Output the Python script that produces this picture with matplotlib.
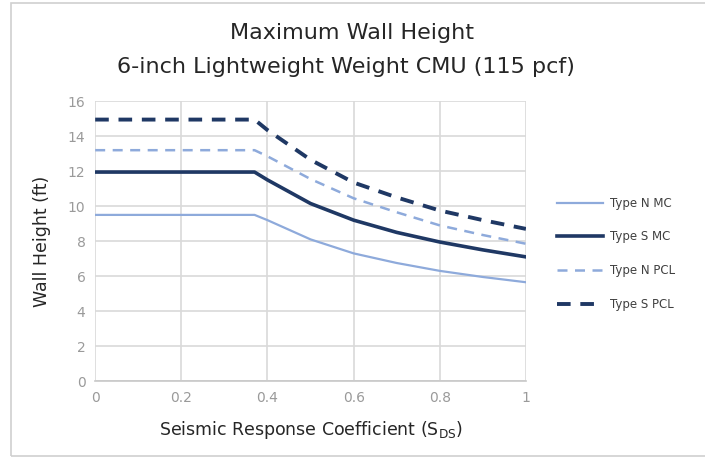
import matplotlib
matplotlib.use("Agg")
import matplotlib.pyplot as plt
from matplotlib.patches import Rectangle

# seismic response coefficient S_DS
sds = [0.0, 0.37, 0.4, 0.5, 0.6, 0.7, 0.8, 0.9, 1.0]

# wall heights (ft)
n_mc  = [9.5, 9.5, 9.2, 8.1, 7.3, 6.75, 6.3, 5.95, 5.65]
s_mc  = [11.95, 11.95, 11.5, 10.15, 9.2, 8.5, 7.95, 7.5, 7.1]
n_pcl = [13.2, 13.2, 12.85, 11.55, 10.45, 9.65, 8.9, 8.35, 7.85]
s_pcl = [14.95, 14.95, 14.35, 12.65, 11.35, 10.5, 9.75, 9.2, 8.7]

labels = ["Type N MC", "Type S MC", "Type N PCL", "Type S PCL"]
light = "#8eaadb"
dark = "#1f3864"

fig = plt.figure(figsize=(7.05, 4.58), dpi=100)
ax = fig.add_axes([0.135, 0.168, 0.611, 0.611])

ax.plot(sds, n_mc, color=light, lw=1.6, label=labels[0])
ax.plot(sds, s_mc, color=dark, lw=2.6, label=labels[1])
ax.plot(sds, n_pcl, color=light, lw=1.8, ls=(0, (4, 3)), label=labels[2])
ax.plot(sds, s_pcl, color=dark, lw=2.8, ls=(0, (3.5, 2.5)), label=labels[3])

ax.set_xlim(0, 1)
ax.set_ylim(0, 16)
ax.set_xticks([0, 0.2, 0.4, 0.6, 0.8, 1.0])
ax.set_xticklabels(["0", "0.2", "0.4", "0.6", "0.8", "1"])
ax.set_yticks(range(0, 17, 2))
ax.grid(True, color="#d9d9d9", lw=1.2)
ax.set_axisbelow(True)
for s in ["top", "right", "left"]:
    ax.spines[s].set_visible(False)
ax.spines["bottom"].set_color("#c8c8c8")
ax.spines["bottom"].set_linewidth(1.2)
ax.tick_params(length=0, colors="#9a9a9a", labelsize=10, pad=7)

ax.set_ylabel("Wall Height (ft)", fontsize=12.5, color="#262626", labelpad=12)
ax.set_xlabel("Seismic Response Coefficient (S$_{\\mathregular{DS}}$)",
              fontsize=12.5, color="#262626", labelpad=10)

fig.text(0.5, 0.928, "Maximum Wall Height", ha="center", va="center",
         fontsize=16, color="#262626")
fig.text(0.49, 0.853, "6-inch Lightweight Weight CMU (115 pcf)", ha="center",
         va="center", fontsize=16, color="#262626")

leg = ax.legend(loc="center left", bbox_to_anchor=(1.048, 0.455), frameon=False,
                fontsize=8.5, handlelength=3.9, labelspacing=1.75,
                handletextpad=0.55)
for t in leg.get_texts():
    t.set_color("#404040")

# outer chart border
fig.patches.append(Rectangle((11 / 705, 2 / 458), 1.0, 453 / 458,
                             transform=fig.transFigure, fill=False,
                             edgecolor="#d0d0d0", lw=1.2))

fig.savefig("out.png", dpi=100)
